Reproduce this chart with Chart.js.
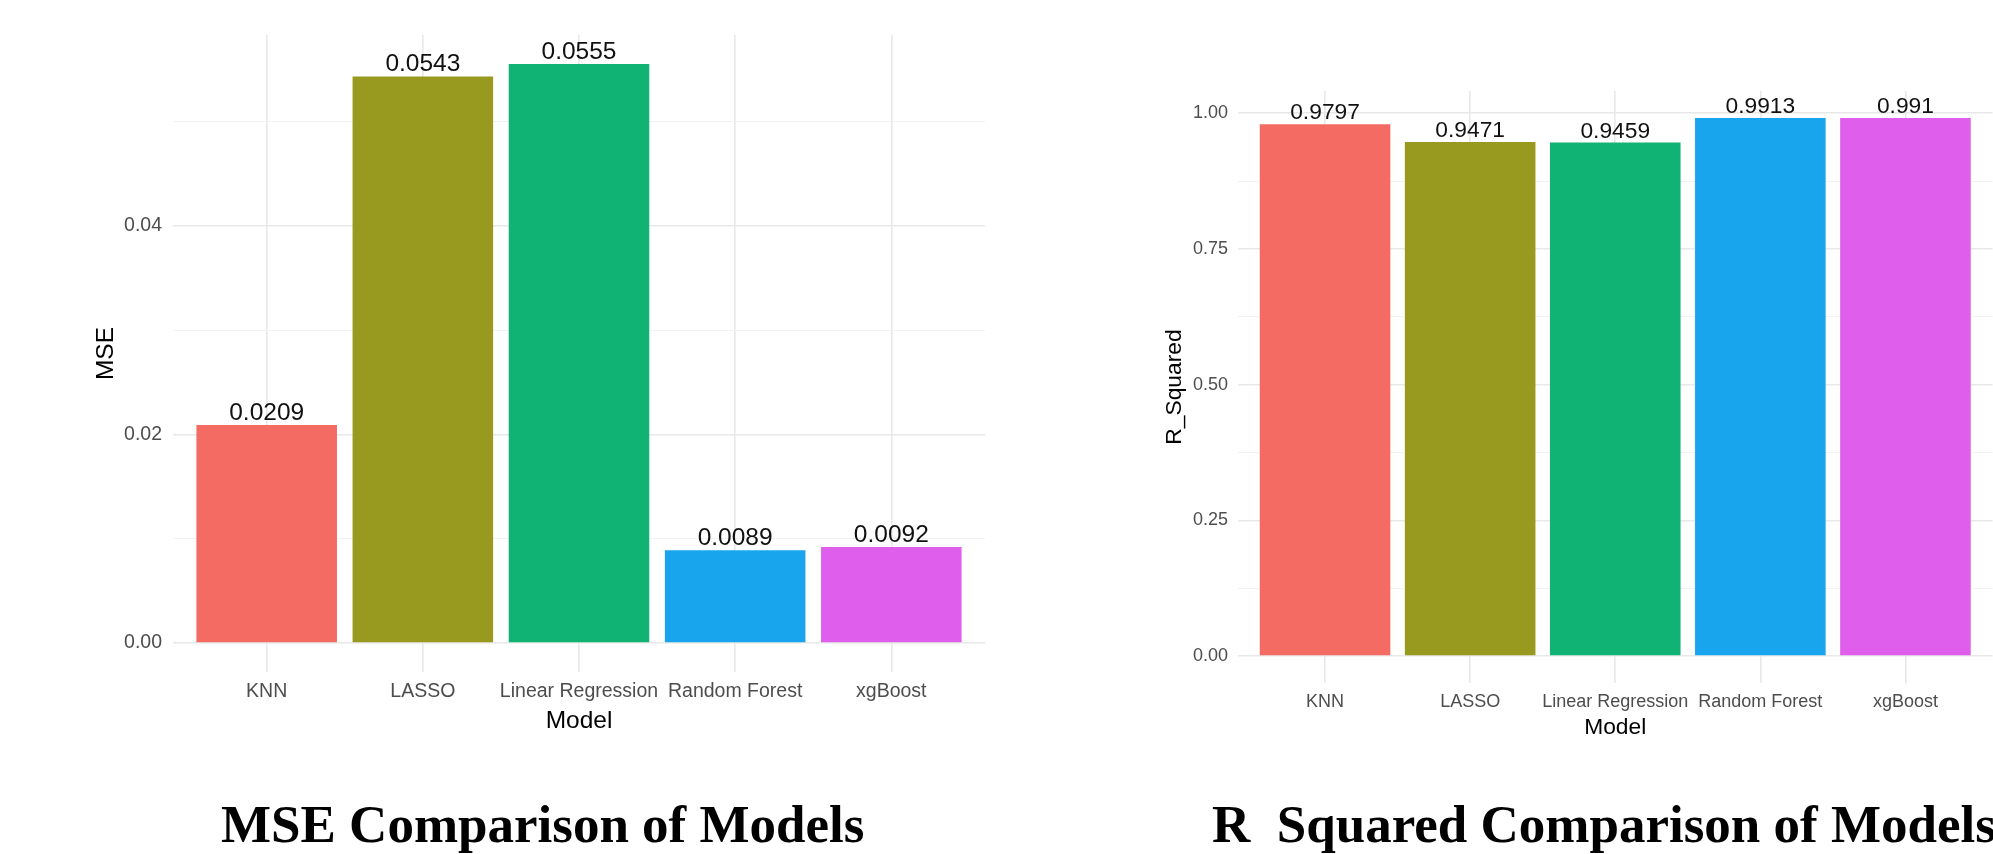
<!DOCTYPE html>
<html>
<head>
<meta charset="utf-8">
<script src="https://cdn.jsdelivr.net/npm/chart.js@4"></script>
<style>
  html, body { margin: 0; padding: 0; background: #fff; }
  body { width: 1993px; height: 854px; overflow: hidden; position: relative; }
  canvas { position: absolute; top: 0; }
  #mseChart { left: 0; }
  #r2Chart { left: 1000px; }
  .caption {
    position: absolute; top: 798px; margin: 0;
    font: bold 53px "Liberation Serif", "Times New Roman", serif;
    line-height: 53px; color: #000; white-space: pre;
  }
</style>
</head>
<body>
<canvas id="mseChart" width="1000" height="760"></canvas>
<canvas id="r2Chart" width="1000" height="770"></canvas>
<div class="caption" style="left:221px">MSE Comparison of Models</div>
<div class="caption" style="left:1212px">R  Squared Comparison of Models</div>

<script>
// data
const models = ['KNN', 'LASSO', 'Linear Regression', 'Random Forest', 'xgBoost'];
const mseValues = [0.0209, 0.0543, 0.0555, 0.0089, 0.0092];
const r2Values = [0.9797, 0.9471, 0.9459, 0.9913, 0.991];

const mseTicks = [0, 0.02, 0.04];
const mseMinorTicks = [0.01, 0.03, 0.05];
const r2Ticks = [0, 0.25, 0.5, 0.75, 1];
const r2MinorTicks = [0.125, 0.375, 0.625, 0.875];

const barColors = ['#F36B63', '#979A1E', '#10B373', '#19A4EE', '#DF5EEC'];

Chart.defaults.font.family = '"Liberation Sans", Arial, Helvetica, sans-serif';
Chart.defaults.animation = false;

// numbers printed on top of each bar (like geom_text(vjust = -0.5))
const valueLabels = {
  id: 'valueLabels',
  afterDatasetsDraw(chart, args, opts) {
    const ctx = chart.ctx;
    const data = chart.data.datasets[0].data;
    ctx.save();
    ctx.font = opts.size + 'px ' + Chart.defaults.font.family;
    ctx.fillStyle = '#111';
    ctx.textAlign = 'center';
    ctx.textBaseline = 'alphabetic';
    chart.getDatasetMeta(0).data.forEach((bar, i) => {
      ctx.fillText(String(data[i].y), bar.x, bar.y - opts.gap);
    });
    ctx.restore();
  }
};

function makeChart(id, values, yTitle, major, minor, s) {
  const ymax = Math.max(...values);
  const expand = ymax * 0.05;
  const allTicks = major.concat(minor).sort((a, b) => a - b);
  const isMajor = v => major.some(m => Math.abs(m - v) < 1e-9);

  return new Chart(document.getElementById(id), {
    type: 'bar',
    data: {
      datasets: [{
        data: values.map((v, i) => ({ x: i, y: v })),
        backgroundColor: barColors,
        borderWidth: 0,
        barPercentage: 0.9,
        categoryPercentage: 1.0
      }]
    },
    plugins: [valueLabels],
    options: {
      responsive: false,
      layout: { padding: { top: s.top, right: s.right, left: 0, bottom: 0 } },
      plugins: {
        legend: { display: false },
        tooltip: { enabled: false },
        valueLabels: { size: s.valueFont, gap: 5 }
      },
      scales: {
        x: {
          type: 'linear',
          min: -0.6,
          max: models.length - 0.4,
          offset: false,
          afterBuildTicks: sc => { sc.ticks = models.map((m, i) => ({ value: i })); },
          afterFit: sc => { sc.height = s.xHeight; },
          ticks: {
            autoSkip: false, maxRotation: 0, minRotation: 0,
            padding: 8,
            color: '#4d4d4d',
            font: { size: s.tickFont },
            callback: v => models[v]
          },
          grid: { offset: false, drawTicks: false, color: '#e8e8e8', lineWidth: 1.6 },
          border: { display: false },
          title: {
            display: true, text: 'Model', color: '#000',
            font: { size: s.titleFont },
            padding: { top: 0, bottom: s.xTitlePad }
          }
        },
        y: {
          type: 'linear',
          min: -expand,
          max: ymax + expand,
          afterBuildTicks: sc => { sc.ticks = allTicks.map(v => ({ value: v })); },
          afterFit: sc => { sc.width = s.yWidth; },
          ticks: {
            autoSkip: false,
            padding: s.yTickPad,
            color: '#4d4d4d',
            font: { size: s.tickFont },
            callback: v => isMajor(v) ? v.toFixed(2) : ''
          },
          grid: {
            drawTicks: false,
            color: c => isMajor(c.tick.value) ? '#e8e8e8' : '#f0f0f0',
            lineWidth: c => isMajor(c.tick.value) ? 1.6 : 0.9
          },
          border: { display: false },
          title: {
            display: true, text: yTitle, color: '#000',
            font: { size: s.titleFont },
            padding: { top: s.yTitlePad, bottom: 0 }
          }
        }
      }
    }
  });
}

makeChart('mseChart', mseValues, 'MSE', mseTicks, mseMinorTicks, {
  top: 35, right: 15, xHeight: 88, yWidth: 173,
  tickFont: 19.5, titleFont: 24.5, valueFont: 24.5,
  xTitlePad: 24, yTitlePad: 92, yTickPad: 11
});

makeChart('r2Chart', r2Values, 'R_Squared', r2Ticks, r2MinorTicks, {
  top: 91, right: 7.5, xHeight: 87, yWidth: 238,
  tickFont: 18, titleFont: 22.8, valueFont: 22.8,
  xTitlePad: 29, yTitlePad: 161, yTickPad: 10
});
</script>
</body>
</html>
